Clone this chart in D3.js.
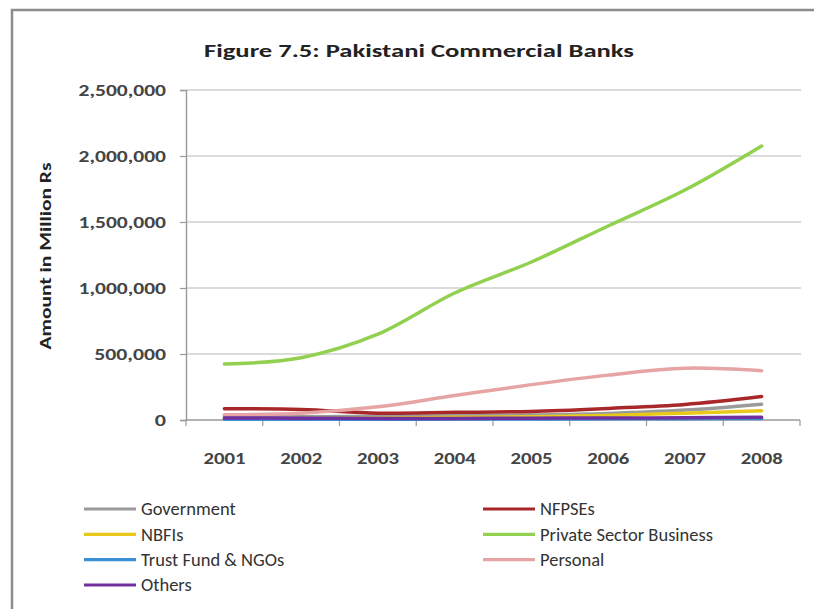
<!DOCTYPE html>
<html>
<head>
<meta charset="utf-8">
<script src="https://cdn.jsdelivr.net/npm/d3@7/dist/d3.min.js"></script>
<style>
  html, body { margin: 0; padding: 0; background: #fff; overflow: hidden; }
  svg { display: block; }
  text { font-family: Carlito, Lato, "Open Sans", sans-serif; }
</style>
</head>
<body>
<svg id="chart" width="814" height="609"></svg>
<script>
// Advances of Pakistani commercial banks by borrower, Rs million
const years = ["2001", "2002", "2003", "2004", "2005", "2006", "2007", "2008"];
const government      = [30000, 25000, 28000, 32000, 38000, 50000, 75000, 120000];
const nfpses          = [85000, 80000, 52000, 58000, 65000, 88000, 118000, 178000];
const nbfis           = [10000, 10000, 14000, 20000, 25000, 35000, 52000, 70000];
const privateBusiness = [424000, 472000, 650000, 962000, 1197000, 1470000, 1742000, 2076000];
const trustFund       = [5000, 5000, 6000, 7000, 8000, 9000, 10000, 12000];
const personal        = [40000, 52000, 100000, 185000, 268000, 340000, 392000, 373000];
const others          = [15000, 14000, 12000, 12000, 14000, 15000, 17000, 20000];
const yTicks = [0, 500000, 1000000, 1500000, 2000000, 2500000];

const seriesNames = ["Government", "NFPSEs", "NBFIs", "Private Sector Business", "Trust Fund & NGOs", "Personal", "Others"];
const seriesColors = ["#9a9a9a", "#a8282a", "#e8c81a", "#92d050", "#3b8fd5", "#e6a4a4", "#7030a0"];
const seriesValues = [government, nfpses, nbfis, privateBusiness, trustFund, personal, others];

const svg = d3.select("#chart");
const plot = { left: 186, right: 800, top: 90, bottom: 420 };

// outer frame
svg.append("rect")
  .attr("x", 12).attr("y", 10).attr("width", 900).attr("height", 700)
  .attr("fill", "#fff").attr("stroke", "#8c8c8c").attr("stroke-width", 2.5);

const x = d3.scaleBand().domain(years).range([plot.left, plot.right]).padding(0);
const y = d3.scaleLinear().domain([0, 2500000]).range([plot.bottom, plot.top]);

// horizontal gridlines
svg.append("g").selectAll("line").data(yTicks.filter(d => d > 0)).join("line")
  .attr("x1", plot.left).attr("x2", plot.right + 1)
  .attr("y1", d => y(d)).attr("y2", d => y(d))
  .attr("stroke", "#cfcfcf").attr("stroke-width", 1.6);

// y axis
const fmt = d3.format(",");
const yAxis = svg.append("g")
  .attr("transform", `translate(${plot.left},0)`)
  .call(d3.axisLeft(y).tickValues(yTicks).tickFormat(fmt).tickSize(6).tickPadding(14));
yAxis.select(".domain").attr("stroke", "#9a9a9a").attr("stroke-width", 1.4);
yAxis.selectAll(".tick line").attr("stroke", "#9a9a9a").attr("stroke-width", 1.2);
yAxis.selectAll(".tick text")
  .attr("fill", "#444").attr("font-weight", "bold").attr("font-size", 16)
  .attr("dy", "0.36em")
  .each(function (d) {
    const s = fmt(d);
    const digits = s.replace(/,/g, "").length;
    const commas = s.length - digits;
    d3.select(this).attr("textLength", digits * 11.2 + commas * 4.5)
      .attr("lengthAdjust", "spacingAndGlyphs");
  });

// x axis with ticks between categories
const xAxisG = svg.append("g").attr("transform", `translate(0,${plot.bottom})`);
xAxisG.append("line")
  .attr("x1", plot.left).attr("x2", plot.right)
  .attr("stroke", "#9a9a9a").attr("stroke-width", 1.4);
const bounds = years.map(d => x(d)).concat([plot.right]);
xAxisG.selectAll("line.tk").data(bounds).join("line").attr("class", "tk")
  .attr("x1", d => d).attr("x2", d => d).attr("y1", 0).attr("y2", 6)
  .attr("stroke", "#9a9a9a").attr("stroke-width", 1.2);
xAxisG.selectAll("text").data(years).join("text")
  .attr("x", d => x(d) + x.bandwidth() / 2).attr("y", 44)
  .attr("text-anchor", "middle")
  .attr("fill", "#444").attr("font-weight", "bold").attr("font-size", 16)
  .attr("textLength", 42).attr("lengthAdjust", "spacingAndGlyphs")
  .text(d => d);

// series lines
const line = d3.line()
  .x((d, i) => x(years[i]) + x.bandwidth() / 2)
  .y(d => y(d))
  .curve(d3.curveCatmullRom.alpha(0.5));

svg.append("g").selectAll("path").data(seriesValues).join("path")
  .attr("d", d => line(d))
  .attr("fill", "none")
  .attr("stroke", (d, i) => seriesColors[i])
  .attr("stroke-width", 3.5)
  .attr("stroke-linejoin", "round")
  .attr("stroke-linecap", "round");

// title
svg.append("text")
  .attr("x", 419).attr("y", 57)
  .attr("text-anchor", "middle")
  .attr("font-weight", "bold").attr("font-size", 19).attr("fill", "#222")
  .attr("textLength", 430).attr("lengthAdjust", "spacingAndGlyphs")
  .text("Figure 7.5: Pakistani Commercial Banks");

// y axis title
svg.append("text")
  .attr("transform", "translate(51,256) rotate(-90)")
  .attr("text-anchor", "middle")
  .attr("font-weight", "bold").attr("font-size", 15).attr("fill", "#222")
  .attr("textLength", 187).attr("lengthAdjust", "spacingAndGlyphs")
  .text("Amount in Million Rs");

// legend: two columns, filled row by row
const legend = svg.append("g");
const colX = [84, 483];
const rowY = [509, 534.3, 559.6, 585];
const items = legend.selectAll("g").data(seriesNames).join("g")
  .attr("transform", (d, i) => `translate(${colX[i % 2]},${rowY[Math.floor(i / 2)]})`);
items.append("line")
  .attr("x1", 0).attr("x2", 52)
  .attr("stroke", (d, i) => seriesColors[i]).attr("stroke-width", 3.2);
items.append("text")
  .attr("x", 57).attr("dy", "0.35em")
  .attr("font-size", 18.5).attr("fill", "#333")
  .text(d => d);
</script>
</body>
</html>
